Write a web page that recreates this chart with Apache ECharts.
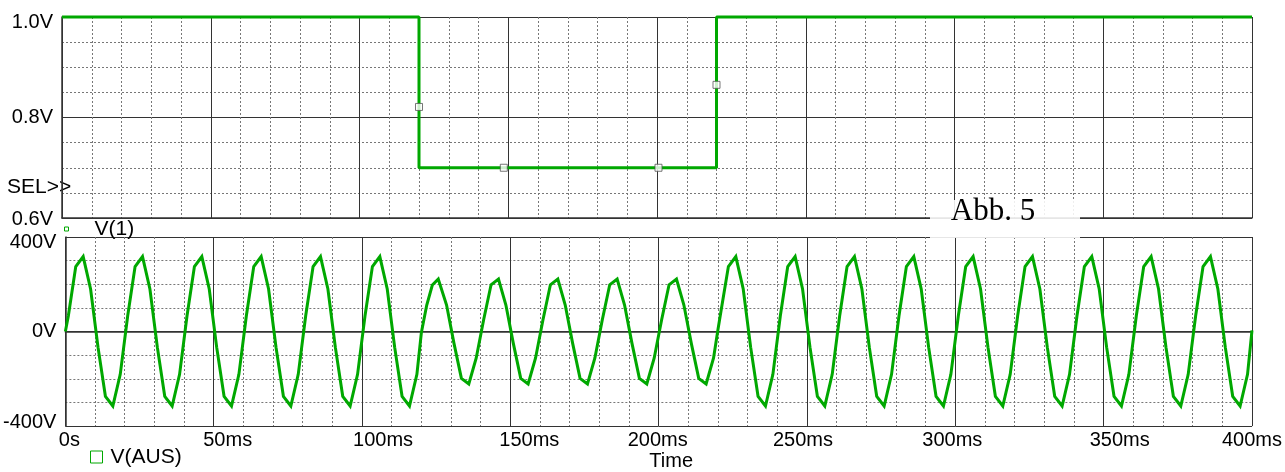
<!DOCTYPE html>
<html>
<head>
<meta charset="utf-8">
<title>V(1) / V(AUS)</title>
<script src="https://cdn.jsdelivr.net/npm/echarts@6/dist/echarts.min.js"></script>
<style>
    html, body { margin: 0; padding: 0; background: #fff; }
    #chart { width: 1285px; height: 472px; }
</style>
</head>
<body>
<div id="chart"></div>
<script>
// V(1): Steuerspannung, Sprung bei 120ms und 220ms
const stepTimes = [0, 120, 120, 220, 220, 400];
const stepValues = [1.0, 1.0, 0.7, 0.7, 1.0, 1.0];

// Markierungen (Quadrate) auf V(1)
const markTimes = [120, 148.5, 200.5, 220];
const markValues = [0.821, 0.7, 0.7, 0.865];

// V(AUS): Ausgangsspannung
const sineTimes = [
    0,
    1, 3.5, 6, 8.5, 11, 13.5, 16, 18.5,
    21, 23.5, 26, 28.5, 31, 33.5, 36, 38.5,
    41, 43.5, 46, 48.5, 51, 53.5, 56, 58.5,
    61, 63.5, 66, 68.5, 71, 73.5, 76, 78.5,
    81, 83.5, 86, 88.5, 91, 93.5, 96, 98.5,
    101, 103.5, 106, 108.5, 111, 113.5, 116, 118.5,
    120, 121.8, 123.7, 125.7, 128.5, 131, 133.5, 136, 138.5,
    141, 143.5, 146, 148.5, 151, 153.5, 156, 158.5,
    161, 163.5, 166, 168.5, 171, 173.5, 176, 178.5,
    181, 183.5, 186, 188.5, 191, 193.5, 196, 198.5,
    201, 203.5, 206, 208.5, 211, 213.5, 216, 218.5,
    220, 221, 223.5, 226, 228.5, 231, 233.5, 236, 238.5,
    241, 243.5, 246, 248.5, 251, 253.5, 256, 258.5,
    261, 263.5, 266, 268.5, 271, 273.5, 276, 278.5,
    281, 283.5, 286, 288.5, 291, 293.5, 296, 298.5,
    301, 303.5, 306, 308.5, 311, 313.5, 316, 318.5,
    321, 323.5, 326, 328.5, 331, 333.5, 336, 338.5,
    341, 343.5, 346, 348.5, 351, 353.5, 356, 358.5,
    361, 363.5, 366, 368.5, 371, 373.5, 376, 378.5,
    381, 383.5, 386, 388.5, 391, 393.5, 396, 398.5,
    400
];
const sineValues = [
    0,
    66, 275, 317, 180, -66, -274, -315, -181,
    66, 275, 317, 180, -66, -274, -315, -181,
    66, 275, 317, 180, -66, -274, -315, -181,
    66, 275, 317, 180, -66, -274, -315, -181,
    66, 275, 317, 180, -66, -274, -315, -181,
    66, 275, 317, 180, -66, -274, -315, -181,
    -5, 111, 197, 222, 112, -50, -198, -222, -112,
    50, 198, 222, 112, -50, -198, -222, -112,
    50, 198, 222, 112, -50, -198, -222, -112,
    50, 198, 222, 112, -50, -198, -222, -112,
    50, 198, 222, 112, -50, -198, -222, -112,
    10, 86, 275, 317, 180, -66, -274, -315, -181,
    66, 275, 317, 180, -66, -274, -315, -181,
    66, 275, 317, 180, -66, -274, -315, -181,
    66, 275, 317, 180, -66, -274, -315, -181,
    66, 275, 317, 180, -66, -274, -315, -181,
    66, 275, 317, 180, -66, -274, -315, -181,
    66, 275, 317, 180, -66, -274, -315, -181,
    66, 275, 317, 180, -66, -274, -315, -181,
    66, 275, 317, 180, -66, -274, -315, -181,
    5
];

// Achsenbeschriftungen
const timeLabels = ['0s', '50ms', '100ms', '150ms', '200ms', '250ms', '300ms', '350ms', '400ms'];
const topVoltLabels = ['0.6V', '0.8V', '1.0V'];
const bottomVoltLabels = ['-400V', '0V', '400V'];

const GREEN = '#00a800';
const FONT = 'Liberation Sans, Arial, sans-serif';

// kleine Verschiebungen der Zeitbeschriftung wie im Original
const timeLabelShift = [4, 14, 21, 19, -1, -4, -3, 16, 0];
const timeRich = {};
timeLabelShift.forEach((s, i) => {
    timeRich['s' + i] = {
        fontSize: 20,
        fontFamily: FONT,
        color: '#000',
        padding: s > 0 ? [0, 0, 0, 2 * s] : [0, -2 * s, 0, 0]
    };
});

const labelStyle = { fontSize: 20, fontFamily: FONT, color: '#000' };

const majorLine = { show: true, lineStyle: { color: '#333', width: 1, type: 'solid' } };
const minorLine = { show: true, lineStyle: { color: '#777', width: 1, type: [2, 2] } };
const axisLine = { show: true, lineStyle: { color: '#333', width: 1.5 } };

const chart = echarts.init(document.getElementById('chart'), null, { renderer: 'canvas' });

const option = {
    animation: false,
    backgroundColor: '#fff',
    grid: [
        { left: 62, top: 17, width: 1190, height: 201 },
        { left: 62, top: 237, width: 1190, height: 192 }
    ],
    xAxis: [
        {
            gridIndex: 0, type: 'value', min: 0, max: 400, interval: 50,
            axisLine: axisLine, axisTick: { show: false }, axisLabel: { show: false },
            splitLine: majorLine,
            minorTick: { show: false, splitNumber: 5 },
            minorSplitLine: minorLine
        },
        {
            gridIndex: 1, type: 'value', min: 0, max: 400, interval: 50,
            axisLine: axisLine, axisTick: { show: false },
            axisLabel: {
                margin: 4,
                formatter: (v) => {
                    const i = Math.round(v / 50);
                    return '{s' + i + '|' + timeLabels[i] + '}';
                },
                rich: timeRich
            },
            splitLine: majorLine,
            minorTick: { show: false, splitNumber: 5 },
            minorSplitLine: minorLine,
            name: 'Time',
            nameLocation: 'middle',
            nameGap: 19,
            nameTextStyle: { fontSize: 20, fontFamily: FONT, color: '#000', padding: [0, 0, 0, 25] }
        }
    ],
    yAxis: [
        {
            gridIndex: 0, type: 'value', min: 0.6, max: 1.0, interval: 0.2,
            axisLine: axisLine, axisTick: { show: false },
            axisLabel: {
                margin: 9,
                formatter: (v) => {
                    const i = Math.round((v - 0.6) / 0.2);
                    return '{t' + i + '|' + topVoltLabels[i] + '}';
                },
                rich: {
                    t0: Object.assign({ padding: [3, 0, 0, 0] }, labelStyle),
                    t1: Object.assign({}, labelStyle),
                    t2: Object.assign({ padding: [10, 0, 0, 0] }, labelStyle)
                }
            },
            splitLine: majorLine,
            minorTick: { show: false, splitNumber: 4 },
            minorSplitLine: minorLine
        },
        {
            gridIndex: 1, type: 'value', min: -400, max: 400, interval: 400,
            axisLine: axisLine, axisTick: { show: false },
            axisLabel: {
                margin: 9,
                formatter: (v) => {
                    const i = Math.round((v + 400) / 400);
                    return '{b' + i + '|' + bottomVoltLabels[i] + '}';
                },
                rich: {
                    b0: Object.assign({ padding: [0, 0, 7, 0] }, labelStyle),
                    b1: Object.assign({}, labelStyle),
                    b2: Object.assign({ padding: [10, 0, 0, 0] }, labelStyle)
                }
            },
            splitLine: majorLine,
            minorTick: { show: false, splitNumber: 4 },
            minorSplitLine: minorLine
        }
    ],
    legend: [
        {
            left: 64, top: 218, padding: 0,
            itemWidth: 4, itemHeight: 4,
            data: [{ name: 'V(1)', icon: 'rect', itemStyle: { color: '#fff', borderColor: GREEN, borderWidth: 1 } }],
            textStyle: { fontSize: 21, fontFamily: FONT, color: '#000', lineHeight: 22, padding: [0, 0, 0, 21] }
        },
        {
            left: 90, top: 446, padding: 0,
            itemWidth: 12, itemHeight: 12,
            data: [{ name: 'V(AUS)', icon: 'rect', itemStyle: { color: '#fff', borderColor: GREEN, borderWidth: 1 } }],
            textStyle: { fontSize: 21, fontFamily: FONT, color: '#000', lineHeight: 22, padding: [0, 0, 0, 3] }
        }
    ],
    series: [
        {
            name: 'V(1)',
            type: 'line',
            xAxisIndex: 0, yAxisIndex: 0,
            data: stepTimes.map((t, i) => [t, stepValues[i]]),
            showSymbol: false,
            clip: false,
            lineStyle: { color: GREEN, width: 3 },
            itemStyle: { color: GREEN },
            z: 3
        },
        {
            name: 'marks',
            type: 'scatter',
            xAxisIndex: 0, yAxisIndex: 0,
            data: markTimes.map((t, i) => [t, markValues[i]]),
            symbol: 'rect',
            symbolSize: 7,
            itemStyle: { color: '#fff', borderColor: '#555', borderWidth: 1 },
            z: 4
        },
        {
            name: 'V(AUS)',
            type: 'line',
            xAxisIndex: 1, yAxisIndex: 1,
            data: sineTimes.map((t, i) => [t, sineValues[i]]),
            showSymbol: false,
            clip: false,
            lineStyle: { color: GREEN, width: 3, join: 'miter' },
            itemStyle: { color: GREEN },
            z: 3
        }
    ],
    graphic: [
        {
            type: 'text', left: 7, top: 177,
            style: { text: 'SEL>>', fontSize: 21, fontFamily: FONT, fill: '#000' }
        },
        {
            type: 'rect', z: 10,
            shape: { x: 930, y: 200, width: 150, height: 38 },
            style: { fill: 'rgba(255,255,255,0.88)' }
        },
        {
            type: 'text', z: 11, x: 993, y: 212,
            style: {
                text: 'Abb. 5', fontSize: 31, fontFamily: 'Liberation Serif, Times New Roman, serif',
                fill: '#000', align: 'center', verticalAlign: 'middle'
            }
        }
    ]
};

chart.setOption(option);
</script>
</body>
</html>
